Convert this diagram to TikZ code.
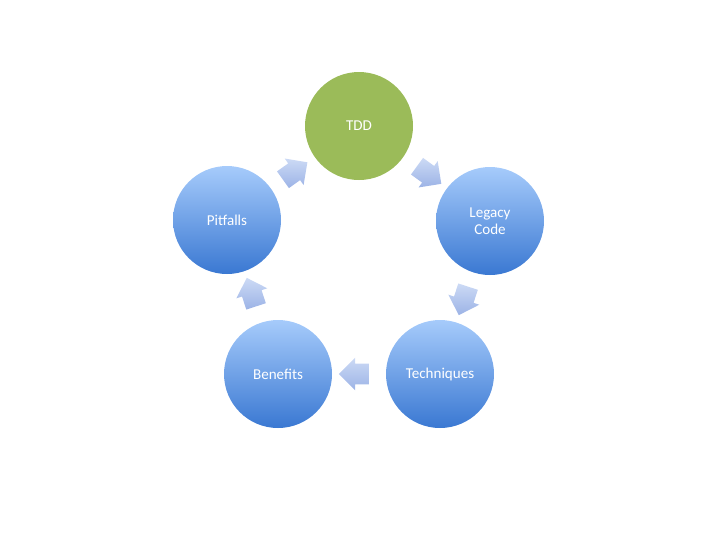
\documentclass[tikz,border=0pt]{standalone}
\usepackage{fontspec}
\setmainfont{Carlito}
\usetikzlibrary{shapes.arrows}
\definecolor{blueTop}{HTML}{A6CBFB}
\definecolor{blueBot}{HTML}{3A78D2}
\definecolor{tddgreen}{HTML}{9BBB59}
\definecolor{arrTop}{HTML}{CCDAF5}
\definecolor{arrBot}{HTML}{9CB3E6}
\tikzset{
  bubble/.style={circle, minimum size=81pt, inner sep=0pt, text=white,
    font=\fontsize{11.3}{13}\selectfont, align=center,
    top color=blueTop, bottom color=blueBot, draw=none},
  tddbubble/.style={circle, minimum size=81pt, inner sep=0pt, text=white,
    font=\fontsize{11.3}{13}\selectfont, fill=tddgreen, draw=none},
  cyclearrow/.style={single arrow, draw=none, inner xsep=0pt, inner ysep=7.5pt,
    font=\fontsize{1}{1}\selectfont,
    minimum height=22.5pt, single arrow head extend=4.5pt,
    single arrow head indent=0pt,
    top color=arrTop, bottom color=arrBot}
}
\begin{document}
\begin{tikzpicture}[x=0.75pt,y=-0.75pt]
\useasboundingbox (0,0) rectangle (720,540);
\node[tddbubble] (tdd) at (359,126) {TDD};
\node[bubble] (legacy) at (490,221) {Legacy\\Code};
\node[bubble] (tech) at (440,374) {Techniques};
\node[bubble] (ben) at (278,374) {Benefits};
\node[bubble] (pit) at (227,220) {Pitfalls};
\node[cyclearrow, rotate=35.5] (a1) at (291,174) {};
\node[cyclearrow, rotate=-36] (a2) at (425,172) {};
\node[cyclearrow, rotate=-108] (a3) at (465,296) {};
\node[cyclearrow, rotate=180] (a4) at (359,374) {};
\node[cyclearrow, rotate=108] (a5) at (253,297) {};
\end{tikzpicture}
\end{document}
